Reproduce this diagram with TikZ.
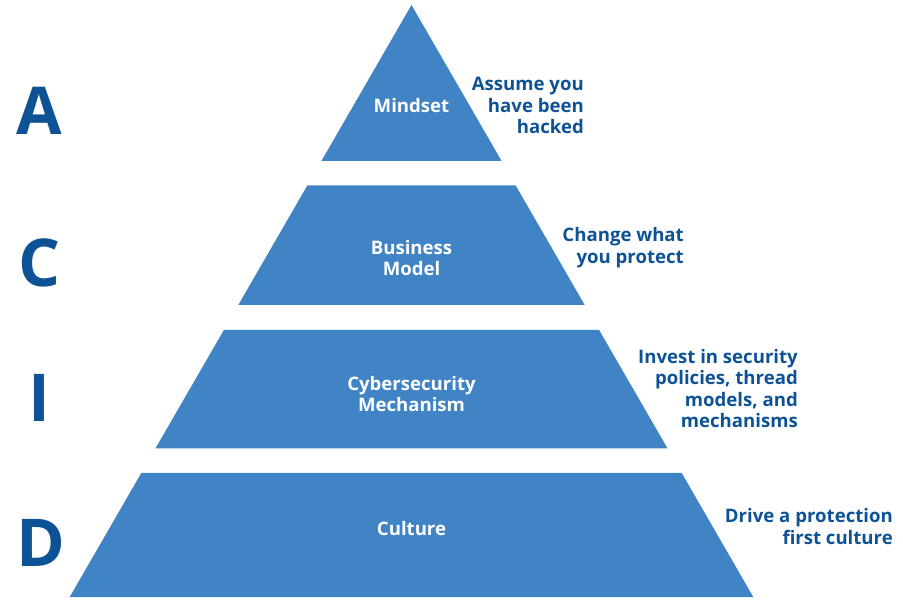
\documentclass[tikz,border=0pt]{standalone}
\usepackage{fontspec}
\setmainfont{Open Sans}
\usepackage{xcolor}
\definecolor{tierblue}{RGB}{64,132,198}
\definecolor{labelblue}{RGB}{14,82,150}

\tikzset{
    tier/.style={fill=tierblue},
    tiertext/.style={text=white, font=\bfseries\fontsize{18.6}{21.6}\selectfont, align=center, inner sep=0pt},
    sidetext/.style={text=labelblue, font=\bfseries\fontsize{18.6}{21.6}\selectfont, align=right, anchor=east, inner sep=0pt},
    letter/.style={text=labelblue, font=\bfseries\fontsize{66}{70}\selectfont, inner sep=0pt}
}

\begin{document}
\begin{tikzpicture}[x=1pt, y=-1pt]
    \useasboundingbox (0,0) rectangle (903,609);

    % Pyramid tiers
    \fill[tier] (411.5,5) -- (501.6,161) -- (321.4,161) -- cycle;
    \fill[tier] (307.3,185.5) -- (515.7,185.5) -- (584.7,305) -- (238.3,305) -- cycle;
    \fill[tier] (223.9,330) -- (599.1,330) -- (667.6,448.5) -- (155.4,448.5) -- cycle;
    \fill[tier] (141.3,473) -- (681.7,473) -- (753.3,597) -- (69.7,597) -- cycle;

    % Tier names
    \node[tiertext] (mindset) at (411.5,106) {Mindset};
    \node[tiertext] (business) at (411.5,258) {Business\\Model};
    \node[tiertext] (cyber) at (411.5,394) {Cybersecurity\\Mechanism};
    \node[tiertext] (culture) at (411.5,529) {Culture};

    % Side notes
    \node[sidetext] (assume) at (584,105.5) {Assume you\\have been\\hacked};
    \node[sidetext] (change) at (684,247.5) {Change what\\you protect};
    \node[sidetext] (invest) at (798,388.5) {Invest in security\\policies, thread\\models, and\\mechanisms};
    \node[sidetext] (drive) at (893,526.5) {Drive a protection\\first culture};

    % ACID letters
    \node[letter] (letterA) at (39.5,110.5) {A};
    \node[letter] (letterC) at (39.5,263) {C};
    \node[letter] (letterI) at (39,398) {I};
    \node[letter] (letterD) at (40.5,543) {D};
\end{tikzpicture}
\end{document}
